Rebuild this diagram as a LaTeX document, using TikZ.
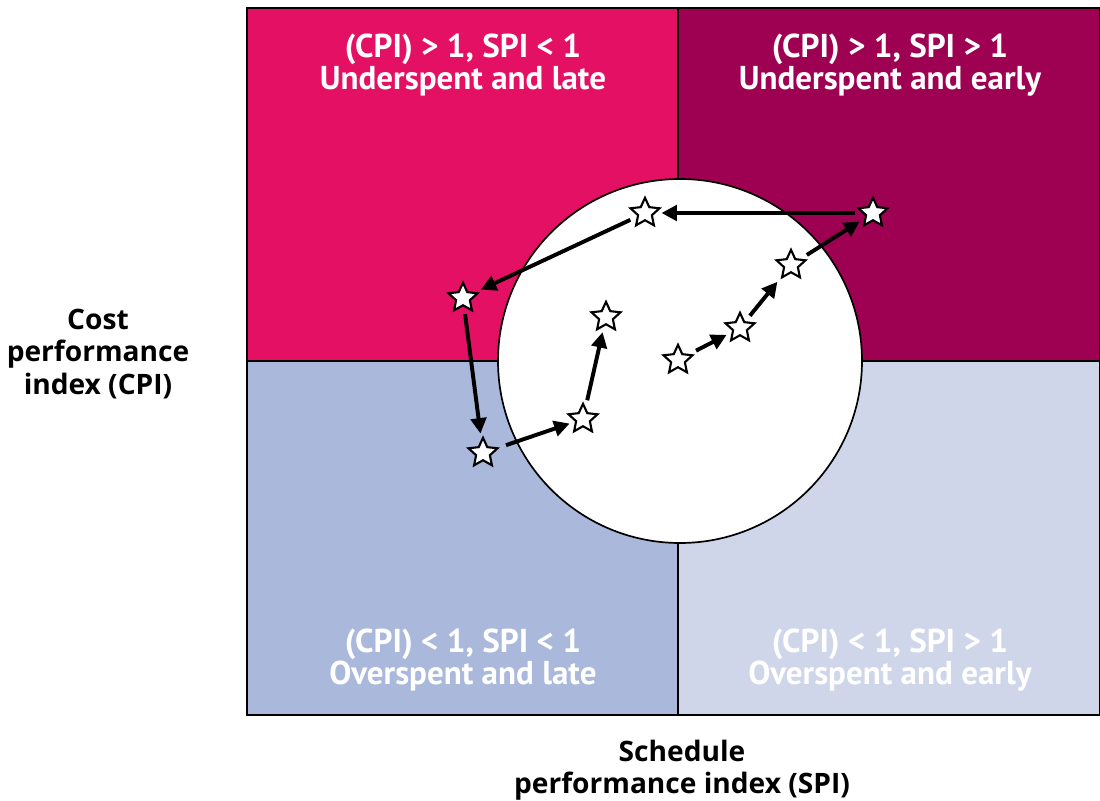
\documentclass[tikz,border=0pt]{standalone}
\usepackage{fontspec}
\setmainfont{Open Sans}
\newfontfamily\quadfont{PT Sans}
\usetikzlibrary{shapes.geometric,arrows.meta}
\definecolor{ulate}{HTML}{E31064}
\definecolor{uearly}{HTML}{9E0052}
\definecolor{olate}{HTML}{A9B8DB}
\definecolor{oearly}{HTML}{CFD6EA}
\tikzset{
  stern/.style={star, star points=5, star point ratio=2.1, draw, fill=white,
    line width=1.5pt, minimum size=0.76cm, inner sep=0pt},
  pfeil/.style={-{Triangle[length=11pt,width=11pt]}, line width=2.8pt,
    shorten <=5pt, shorten >=4pt},
  quadtext/.style={text=white, align=center, font=\quadfont\bfseries\fontsize{23.5}{23}\selectfont},
  axistext/.style={align=center, font=\bfseries\fontsize{20}{23}\selectfont}
}
\begin{document}
\begin{tikzpicture}[x=0.025cm,y=-0.025cm]
\useasboundingbox (0,0) rectangle (1100,801);
% quadrants
\fill[ulate] (247,8) rectangle (678,361);
\fill[uearly] (678,8) rectangle (1100,361);
\fill[olate] (247,361) rectangle (678,715);
\fill[oearly] (678,361) rectangle (1100,715);
\draw[line width=1.4pt] (678,8) -- (678,715);
\draw[line width=1.4pt] (247,361) -- (1100,361);
\draw[line width=1.4pt] (247,8) rectangle (1099.5,715);
\draw[fill=white, line width=1.2pt] (680,361) circle (182);
% labels
\node[quadtext] (ul) at (463,65) {(CPI) > 1, SPI < 1\\Underspent and late};
\node[quadtext] (ue) at (890,65) {(CPI) > 1, SPI > 1\\Underspent and early};
\node[quadtext] (ol) at (463,660) {(CPI) < 1, SPI < 1\\Overspent and late};
\node[quadtext] (oe) at (890,660) {(CPI) < 1, SPI > 1\\Overspent and early};
\node[axistext] (cpi) at (98,354) {Cost\\performance\\index (CPI)};
\node[axistext] (spi) at (682,770) {Schedule\\performance index (SPI)};
% stars
\node[stern] (s1) at (678,360) {};
\node[stern] (s2) at (645,213) {};
\node[stern] (s3) at (463,298) {};
\node[stern] (s4) at (483,453) {};
\node[stern] (s5) at (583,419) {};
\node[stern] (s6) at (606,317) {};
\node[stern] (s7) at (740,328) {};
\node[stern] (s8) at (791,265) {};
\node[stern] (s9) at (873,213) {};
% path
\draw[pfeil] (s9) -- (s2);
\draw[pfeil] (s2) -- (s3);
\draw[pfeil] (s3) -- (s4);
\draw[pfeil] (s4) -- (s5);
\draw[pfeil] (s5) -- (s6);
\draw[pfeil] (s1) -- (s7);
\draw[pfeil] (s7) -- (s8);
\draw[pfeil] (s8) -- (s9);
\end{tikzpicture}
\end{document}
